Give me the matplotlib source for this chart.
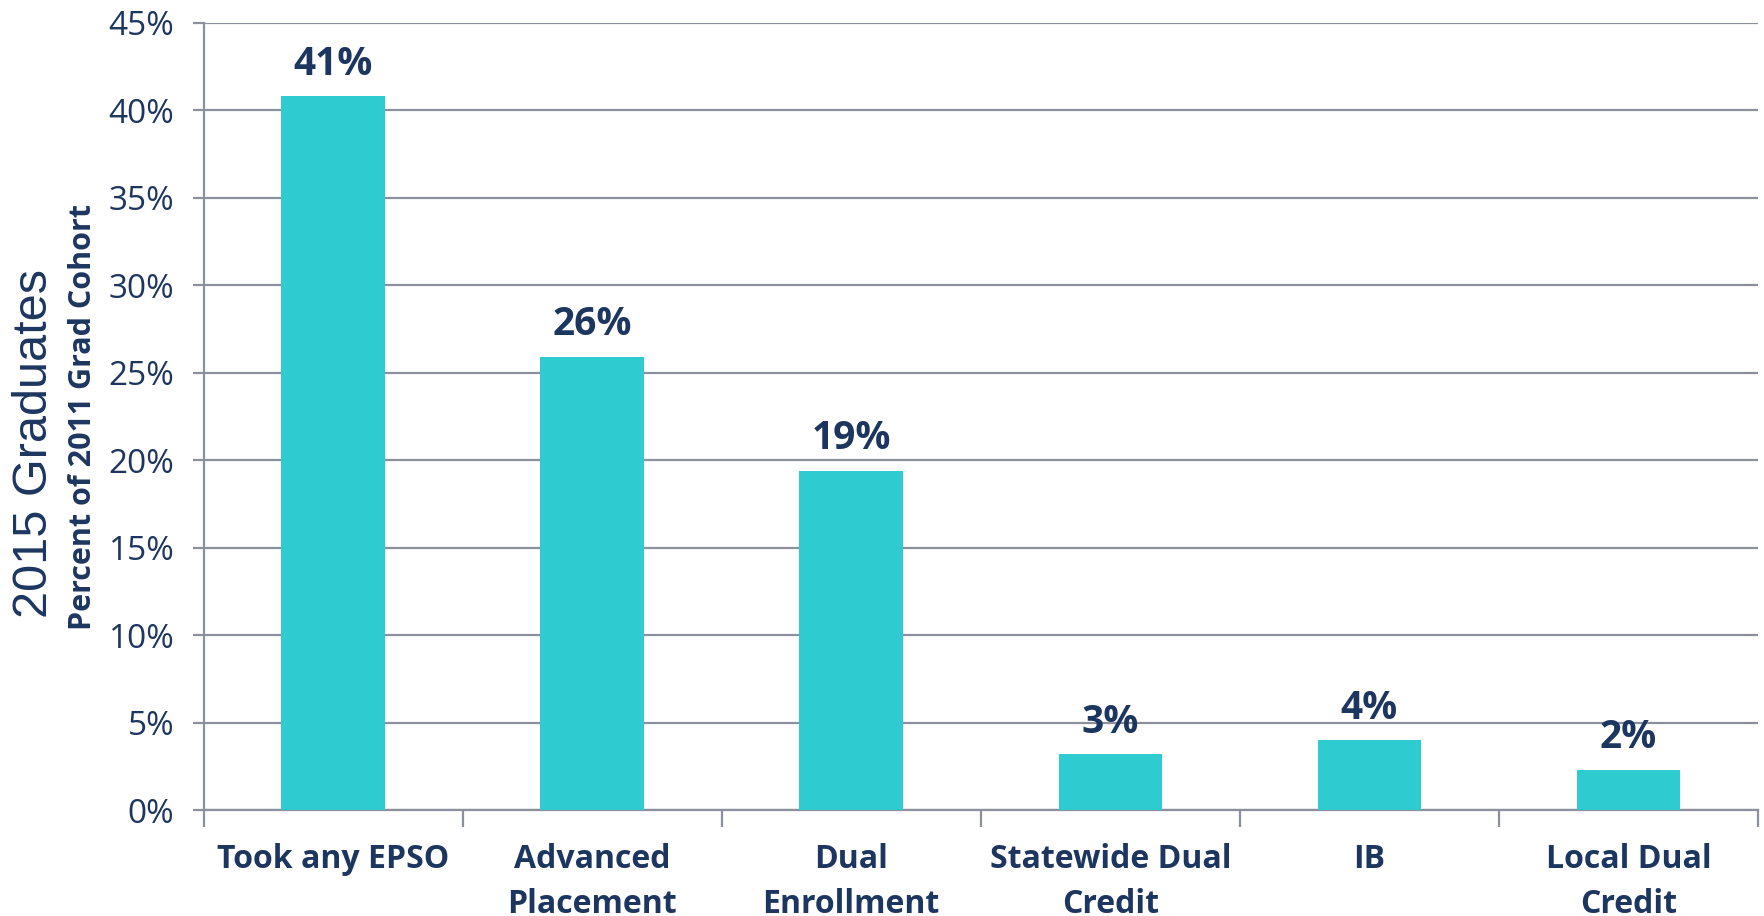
import matplotlib
matplotlib.use('Agg')
import matplotlib.pyplot as plt
from matplotlib.ticker import FixedLocator

categories = ['Took any EPSO', 'Advanced\nPlacement', 'Dual\nEnrollment',
              'Statewide Dual\nCredit', 'IB', 'Local Dual\nCredit']
values = [40.8, 25.9, 19.4, 3.2, 4.0, 2.3]
labels = ['41%', '26%', '19%', '3%', '4%', '2%']
yticks = [0, 5, 10, 15, 20, 25, 30, 35, 40, 45]

navy = '#1d3660'
teal = '#2ecbd1'
grid = '#8c909c'

fig = plt.figure(figsize=(17.64, 9.16), dpi=100)
ax = fig.add_axes([0.1154, 0.1157, 0.8812, 0.8597])

x = list(range(len(categories)))
ax.bar(x, values, width=0.4, color=teal, zorder=3)

# value labels above bars
for xi, v, lab in zip(x, values, labels):
    ax.annotate(lab, xy=(xi, v), xytext=(0, 9), textcoords='offset points',
                ha='center', va='bottom', fontsize=28, fontweight='bold',
                color=navy, family='Open Sans')

ax.set_xlim(-0.5, len(categories) - 0.5)
ax.set_ylim(0, 45)
ax.set_yticks(yticks)
ax.set_yticklabels([f'{t}%' for t in yticks], fontsize=24, color=navy, family='Open Sans')
ax.yaxis.grid(True, color=grid, linewidth=1.6, zorder=0)
ax.tick_params(axis='y', length=8, width=1.6, color=grid, pad=13)

ax.set_xticks(x)
ax.set_xticklabels(categories, fontsize=23, fontweight='bold', color=navy,
                   family='Open Sans', linespacing=1.45, va='top')
ax.tick_params(axis='x', which='major', length=0, pad=24)
ax.xaxis.set_minor_locator(FixedLocator([i - 0.5 for i in range(len(categories) + 1)]))
ax.tick_params(axis='x', which='minor', length=12, width=1.6, color=grid)

for s in ['top', 'right']:
    ax.spines[s].set_visible(False)
for s in ['left', 'bottom']:
    ax.spines[s].set_color(grid)
    ax.spines[s].set_linewidth(1.6)

fig.text(0.0195, 0.516, '2015 Graduates', rotation=90, ha='center', va='center',
         fontsize=35, color=navy, family='Liberation Sans')
fig.text(0.047, 0.545, 'Percent of 2011 Grad Cohort', rotation=90, ha='center', va='center',
         fontsize=22, fontweight='bold', color=navy, family='Open Sans')

plt.savefig('out.png', dpi=100)
plt.close()
